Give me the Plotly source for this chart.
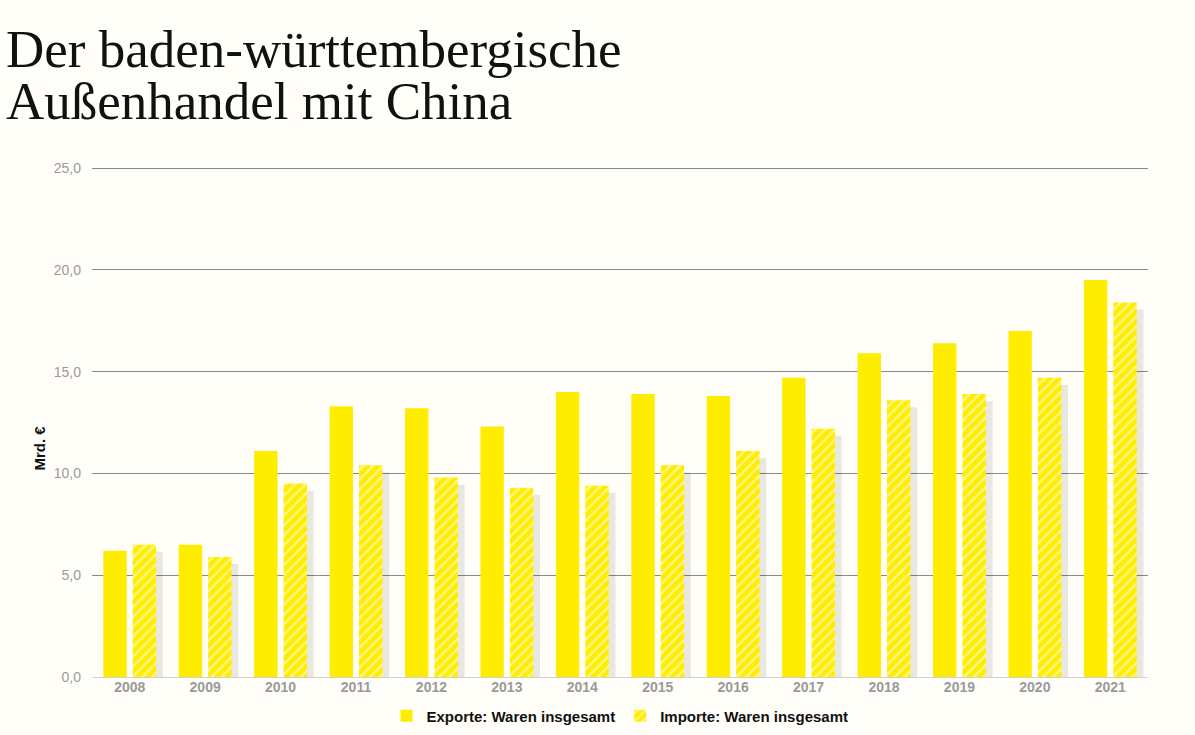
import plotly.graph_objects as go

years = ["2008", "2009", "2010", "2011", "2012", "2013", "2014",
         "2015", "2016", "2017", "2018", "2019", "2020", "2021"]
exporte = [6.2, 6.5, 11.1, 13.3, 13.2, 12.3, 14.0, 13.9, 13.8, 14.7, 15.9, 16.4, 17.0, 19.5]
importe = [6.5, 5.9, 9.5, 10.4, 9.8, 9.3, 9.4, 10.4, 11.1, 12.2, 13.6, 13.9, 14.7, 18.4]

title_lines = ["Der baden-württembergische", "Außenhandel mit China"]

YELLOW = "#FFED00"
BG = "#FFFEF9"
BAR_W = 0.31

# plot area in pixels, used to place the free text in paper coordinates
L, R, T, B = 92, 47, 163, 58
PW, PH = 1195 - L - R, 735 - T - B
Y_TOP = 25.25  # a little headroom so the 25,0 gridline is drawn


def px_x(x):
    return (x - L) / PW


def px_y(y):
    return (735 - B - y) / PH


fig = go.Figure()

# soft drop shadow behind the import bars
fig.add_trace(go.Bar(
    x=years, y=importe, base=-0.35,
    offset=0.04 + 0.09, width=BAR_W,
    marker=dict(color="rgba(0,0,0,0.09)", line=dict(width=0)),
    showlegend=False, hoverinfo="skip",
))

fig.add_trace(go.Bar(
    x=years, y=exporte, name="Exporte: Waren insgesamt",
    offset=-0.35, width=BAR_W,
    marker=dict(color=YELLOW, line=dict(width=0)),
))

fig.add_trace(go.Bar(
    x=years, y=importe, name="Importe: Waren insgesamt",
    offset=0.04, width=BAR_W,
    marker=dict(
        color=YELLOW, line=dict(width=0),
        pattern=dict(shape="/", fgcolor="white", bgcolor=YELLOW,
                     size=7, solidity=0.35, fillmode="overlay"),
    ),
))

annotations = [dict(
    text="<b>Mrd. €</b>", textangle=-90,
    xref="paper", yref="paper", x=px_x(28), y=px_y(448),
    showarrow=False,
    font=dict(family="Liberation Sans", size=15, color="#111"),
)]
for i, line in enumerate(title_lines):
    annotations.append(dict(
        text=line, xref="paper", yref="paper",
        x=px_x(4), y=px_y(18 + 52 * i),
        xanchor="left", yanchor="top", showarrow=False,
        font=dict(family="Liberation Serif", size=53, color="#111"),
    ))

fig.update_layout(
    width=1195, height=735,
    barmode="overlay",
    paper_bgcolor=BG, plot_bgcolor=BG,
    separators=",.",
    margin=dict(l=L, r=R, t=T, b=B, autoexpand=False),
    xaxis=dict(
        type="category", showgrid=False, ticks="", showline=False,
        tickfont=dict(family="Liberation Sans", size=14, color="#9a9a9a", weight="bold"),
    ),
    yaxis=dict(
        range=[0, Y_TOP], tickvals=[0, 5, 10, 15, 20, 25], tickformat=".1f",
        showgrid=True, gridcolor="#8a8a8a", gridwidth=1,
        zeroline=True, zerolinecolor="#d0d0d0", zerolinewidth=1,
        ticks="", ticklabelstandoff=10,
        tickfont=dict(family="Liberation Sans", size=14, color="#9a9a9a"),
    ),
    legend=dict(
        orientation="h", x=0.5, xanchor="center",
        y=px_y(716), yanchor="middle",
        font=dict(family="Liberation Sans", size=15, color="#111", weight="bold"),
        itemwidth=30, traceorder="normal",
    ),
    annotations=annotations,
)

fig.write_html("out.html", config={"displayModeBar": False},
               post_script="document.body.style.margin='0';")
